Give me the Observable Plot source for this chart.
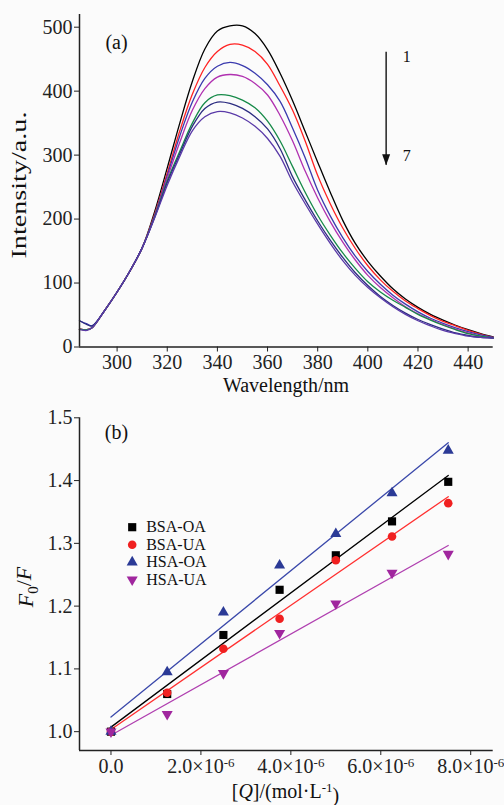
<!DOCTYPE html>
<html><head><meta charset="utf-8">
<script src="https://cdn.jsdelivr.net/npm/d3@7"></script>
<script src="https://cdn.jsdelivr.net/npm/@observablehq/plot@0.6"></script>
<style>
body{margin:0;background:#fbfbfb;}
#c{width:504px;}
svg{display:block;}
svg text{font-family:"Liberation Serif","Times New Roman",serif !important;}
</style></head><body><div id="c"></div>
<script>
// ---------- Panel (a): fluorescence spectra ----------
const wavelengths = [285, 288, 290, 295, 300, 305, 310, 315, 320, 325, 330, 335, 340, 345, 350, 355, 360, 365, 370, 375, 380, 385, 390, 395, 400, 405, 410, 415, 420, 425, 430, 435, 440, 445, 450];
const intensity1 = [28, 27, 30, 57, 86, 118, 155, 212, 280, 350, 415, 466, 494, 502, 502, 490, 465, 428, 385, 337, 289, 242, 198, 162, 134, 111, 91, 75, 62, 51, 42, 34, 27, 21, 16];
const intensity2 = [28, 27, 30, 57, 86, 118, 155, 208, 272, 338, 395, 437, 462, 473, 472, 462, 442, 408, 370, 322, 268, 224, 186, 154, 127, 105, 87, 72, 60, 49, 40, 33, 26, 20, 15];
const intensity3 = [41, 36, 33, 57, 86, 118, 155, 206, 268, 330, 383, 420, 439, 445, 440, 428, 410, 384, 342, 296, 245, 205, 171, 142, 118, 98, 81, 67, 55, 45, 37, 30, 24, 19, 15];
const intensity4 = [28, 27, 30, 57, 86, 118, 155, 205, 264, 320, 370, 404, 422, 426, 423, 412, 394, 362, 322, 275, 233, 196, 164, 136, 112, 93, 77, 63, 52, 43, 35, 28, 22, 17, 14];
const intensity5 = [28, 27, 30, 57, 86, 118, 155, 204, 260, 306, 350, 382, 394, 393, 386, 374, 353, 322, 282, 242, 206, 175, 147, 123, 102, 86, 73, 62, 51, 42, 34, 27, 21, 17, 14];
const intensity6 = [41, 35, 33, 57, 86, 118, 155, 203, 257, 302, 345, 373, 383, 381, 373, 360, 341, 310, 266, 230, 197, 167, 140, 116, 96, 79, 65, 53, 43, 35, 28, 22, 18, 15, 14];
const intensity7 = [27, 26, 30, 57, 86, 118, 155, 202, 253, 298, 338, 360, 368, 366, 358, 345, 326, 298, 258, 224, 192, 162, 135, 112, 93, 77, 63, 51, 41, 33, 26, 21, 17, 15, 14];
const curveColors = ["#000000", "#ff2222", "#3a3aae", "#b030b0", "#168a48", "#2c2c80", "#5a3aa8"];
const wlTicks = [300, 320, 340, 360, 380, 400, 420, 440];
const intensityTicks = [0, 100, 200, 300, 400, 500];
const arrowAnno = [{wl: 407.3, from: 461, to: 284}];
const arrowLabels = [{wl: 415.5, I: 453, t: "1"}, {wl: 415.5, I: 299, t: "7"}];

// ---------- Panel (b): Stern-Volmer ----------
const concentration = [0, 1.25e-6, 2.5e-6, 3.75e-6, 5e-6, 6.25e-6, 7.5e-6];
const bsaOA = [1.000, 1.060, 1.154, 1.226, 1.281, 1.335, 1.398];
const bsaUA = [1.000, 1.062, 1.132, 1.180, 1.273, 1.311, 1.364];
const hsaOA = [1.000, 1.095, 1.190, 1.265, 1.315, 1.380, 1.448];
const hsaUA = [1.000, 1.028, 1.093, 1.157, 1.204, 1.253, 1.283];
const seriesNames = ["BSA-OA", "BSA-UA", "HSA-OA", "HSA-UA"];
const markColors = ["#000000", "#f02020", "#2b3a96", "#a0269e"];
const lineColors = ["#000000", "#ff3030", "#3a48aa", "#b040b0"];
const concTicks = [0, 2e-6, 4e-6, 6e-6, 8e-6];
const ratioTicks = [1.0, 1.1, 1.2, 1.3, 1.4, 1.5];

const FONT = '"Liberation Serif", "Times New Roman", serif';
const AXIS = "#222";

const triDown = {draw(ctx, size) {
  const y = Math.sqrt(size / (Math.sqrt(3) * 3));
  ctx.moveTo(0, 2 * y); ctx.lineTo(-Math.sqrt(3) * y, -y); ctx.lineTo(Math.sqrt(3) * y, -y); ctx.closePath();
}};
const arrowHead = {draw(ctx) { ctx.moveTo(0, 5); ctx.lineTo(-4, -6); ctx.lineTo(4, -6); ctx.closePath(); }};
const symbols = ["square", "circle", "triangle", triDown];
const symbolR = [4.6, 4.3, 4.1, 4.1];

const spectraArrays = [intensity1, intensity2, intensity3, intensity4, intensity5, intensity6, intensity7];
const spectra = spectraArrays.map((arr, i) => arr.map((v, j) => ({wl: wavelengths[j], I: v, curve: i + 1})));

const plotA = Plot.plot({
  width: 504, height: 400,
  marginLeft: 79, marginRight: 11.3, marginTop: 13.9, marginBottom: 53.5,
  style: {fontFamily: FONT, fontSize: "20px", background: "transparent", color: AXIS},
  x: {domain: [285, 450], ticks: wlTicks, tickSize: 5, tickPadding: 3, label: null},
  y: {domain: [0, 520], ticks: intensityTicks, tickSize: 5, tickPadding: 2, label: null},
  marks: [
    ...spectra.map((s, i) => Plot.line(s, {x: "wl", y: "I", stroke: curveColors[i], strokeWidth: 1.3, curve: "catmull-rom"})),
    Plot.ruleX([285], {stroke: AXIS, strokeWidth: 1.5}),
    Plot.ruleY([0], {stroke: AXIS, strokeWidth: 1.5}),
    Plot.ruleX(arrowAnno, {x: "wl", y1: "from", y2: "to", stroke: "#111", strokeWidth: 1.4}),
    Plot.dot(arrowAnno, {x: "wl", y: "to", symbol: arrowHead, fill: "#111", stroke: "none", dy: -5}),
    Plot.text(arrowLabels, {x: "wl", y: "I", text: "t", fontSize: 16, fill: "#111"}),
    Plot.text(["(a)"], {frameAnchor: "top-left", dx: 37, dy: 27.8, text: d => d, textAnchor: "middle", lineAnchor: "middle", fontSize: 20, fill: "#111"})
  ]
});

const seriesArrays = [bsaOA, bsaUA, hsaOA, hsaUA];
const series = seriesArrays.map((arr, i) => arr.map((v, j) => ({c: concentration[j], r: v, name: seriesNames[i]})));

const plotB = Plot.plot({
  width: 504, height: 405,
  marginLeft: 79, marginRight: 11.3, marginTop: 17.3, marginBottom: 55,
  style: {fontFamily: FONT, fontSize: "20px", background: "transparent", color: AXIS, overflow: "visible"},
  x: {domain: [-0.7e-6, 8.5e-6], ticks: concTicks, tickSize: 5, tickPadding: 3, label: null,
      tickFormat: d => d === 0 ? "0.0" : (d * 1e6).toFixed(1) + "×10|-6"},
  y: {domain: [0.97, 1.5], ticks: ratioTicks, tickSize: 5, tickPadding: 2, label: null, tickFormat: d3.format(".1f")},
  marks: [
    ...series.map((s, i) => Plot.linearRegressionY(s, {x: "c", y: "r", stroke: lineColors[i], strokeWidth: 1.3, ci: 0})),
    ...series.map((s, i) => Plot.dot(s, {x: "c", y: "r", symbol: symbols[i], r: symbolR[i], fill: markColors[i], stroke: "none"})),
    Plot.ruleX([-0.7e-6], {stroke: AXIS, strokeWidth: 1.5}),
    Plot.ruleY([0.97], {stroke: AXIS, strokeWidth: 1.5}),
    ...seriesNames.map((n, i) => Plot.dot([n], {frameAnchor: "top-left", dx: 52.7, dy: 109.4 + 17.5 * i, symbol: symbols[i], r: symbolR[i], fill: markColors[i], stroke: "none"})),
    ...seriesNames.map((n, i) => Plot.text([n], {frameAnchor: "top-left", dx: 66.7, dy: 109.4 + 17.5 * i, text: d => d, textAnchor: "start", lineAnchor: "middle", fontSize: 16, fill: "#111"})),
    Plot.text(["(b)"], {frameAnchor: "top-left", dx: 37, dy: 14.4, text: d => d, textAnchor: "middle", lineAnchor: "middle", fontSize: 20, fill: "#111"})
  ]
});

const container = document.getElementById("c");
container.appendChild(plotA);
container.appendChild(plotB);

// axis labels (rich text)
const sa = d3.select(plotA);
sa.append("text").attr("x", 286).attr("y", 392).attr("text-anchor", "middle")
  .attr("font-size", 20).attr("fill", "#111").text("Wavelength/nm");
sa.append("text").attr("transform", "translate(26,185) rotate(-90)").attr("text-anchor", "middle")
  .attr("font-size", 22).attr("fill", "#111").attr("textLength", 147).attr("lengthAdjust", "spacingAndGlyphs")
  .text("Intensity/a.u.");

const sb = d3.select(plotB);
// x tick labels with superscript
sb.selectAll('g[aria-label="x-axis tick label"] text').each(function() {
  const t = this.textContent;
  if (t.includes("|")) {
    const [base, sup] = t.split("|");
    const el = d3.select(this);
    el.text(null);
    el.append("tspan").text(base);
    el.append("tspan").attr("dy", "-0.45em").attr("font-size", "0.65em").text(sup);
  }
});
const yl = sb.append("text").attr("transform", "translate(33,187) rotate(-90)").attr("text-anchor", "middle")
  .attr("font-size", 22).attr("fill", "#111");
yl.append("tspan").attr("font-style", "italic").text("F");
yl.append("tspan").attr("font-size", 15).attr("dy", "0.3em").text("0");
yl.append("tspan").attr("dy", "-0.3em").text("/");
yl.append("tspan").attr("font-style", "italic").text("F");
const xl = sb.append("text").attr("x", 285.5).attr("y", 398).attr("text-anchor", "middle")
  .attr("font-size", 20).attr("fill", "#111");
xl.append("tspan").text("[");
xl.append("tspan").attr("font-style", "italic").text("Q");
xl.append("tspan").text("]/(mol·L");
xl.append("tspan").attr("font-size", 13).attr("dy", "-0.5em").text("-1");
xl.append("tspan").attr("dy", "0.5em").text(")");

// force serif face on every text element
d3.selectAll("#c svg text").style("font-family", FONT).attr("font-family", FONT);
</script></body></html>
